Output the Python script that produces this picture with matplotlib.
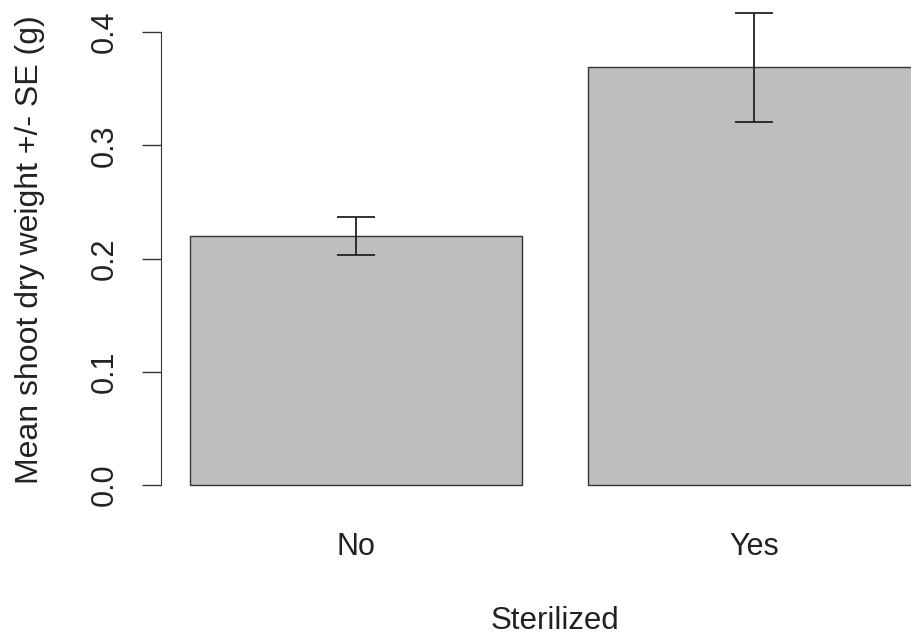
import numpy as np
import matplotlib.pyplot as plt

plt.rcParams['font.family'] = ['Liberation Sans', 'DejaVu Sans']

categories = ['No', 'Yes']
means = [0.220, 0.369]
se = [0.017, 0.048]
yticks = [0.0, 0.1, 0.2, 0.3, 0.4]

W, H = 911, 641
fig = plt.figure(figsize=(W / 100, H / 100), dpi=100)

# plot region in pixels (R-style barplot, right side cropped off)
left_px, right_px = 161, 949
top_px, bot_px = 5, 503
aw, ah = right_px - left_px, bot_px - top_px
ax = fig.add_axes([left_px / W, 1 - bot_px / H, aw / W, ah / H])

# R barplot layout: width 1, space 0.2
x = np.array([0.7, 1.9])
ax.bar(x, means, width=1.0, color='#bebebe', edgecolor='#333333', linewidth=1.0)
ax.errorbar(x, means, yerr=se, fmt='none', ecolor='#222222',
            elinewidth=1.3, capsize=14, capthick=1.3)

ax.set_xlim(0.112, 2.488)
ppu = 1132.0  # pixels per unit on y
ax.set_ylim(-(bot_px - 485) / ppu, (485 - top_px) / ppu)

fs = 22
for s in ['top', 'right', 'bottom']:
    ax.spines[s].set_visible(False)
ax.spines['left'].set_bounds(0, 0.4)
ax.spines['left'].set_color('#333333')
ax.set_yticks(yticks)
ax.set_yticklabels(['%.1f' % v for v in yticks], rotation=90, va='center',
                   fontsize=fs, color='#222222')
ax.tick_params(axis='y', length=14, width=1, color='#333333', pad=16)

ax.set_xticks(x)
ax.set_xticklabels(categories, fontsize=fs, color='#222222')
ax.tick_params(axis='x', length=0, pad=21)

ax.set_xlabel('Sterilized', fontsize=22.5, color='#222222', va='center')
ax.xaxis.set_label_coords(0.5, (bot_px - 621) / ah)
ax.set_ylabel('Mean shoot dry weight +/- SE (g)', fontsize=23, color='#222222',
              va='center')
ax.yaxis.set_label_coords((30 - left_px) / aw, (bot_px - 250) / ah)

fig.savefig('out.png', dpi=100)
